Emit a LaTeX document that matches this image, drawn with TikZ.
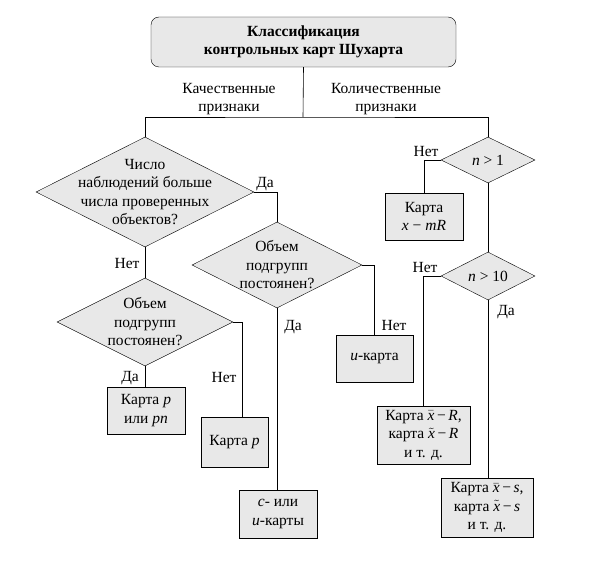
\documentclass[tikz,border=0pt]{standalone}
\usepackage{fix-cm}
\usepackage{fontspec}
\setmainfont{Liberation Serif}
\usetikzlibrary{shapes.geometric}

\begin{document}
\begin{tikzpicture}[x=1pt, y=-1pt,
                   every node/.style={font=\fontsize{15.5}{18.5}\selectfont, align=center},
                   card/.style={rectangle, draw=black, fill=black!9, inner sep=0pt},
                   ask/.style={diamond, draw=black, fill=black!9, inner sep=0pt},
                   link/.style={draw=black, line width=0.6pt}]
\useasboundingbox (0,0) rectangle (602,567);
\node[card, rounded corners=8pt, minimum width=305pt, minimum height=50pt, font=\fontsize{15.5}{18.5}\selectfont\bfseries] (title) at (303.5,42) {Классификация\\контрольных карт Шухарта};
\node (kach) at (229,99) {Качественные\\признаки};
\node (kol) at (386,99) {Количественные\\признаки};
\coordinate (split) at (303,117);

\node[ask, minimum width=218pt, minimum height=110pt, label={center:Число\\наблюдений больше\\числа проверенных\\объектов?}] (d1) at (145,192) {};
\node[ask, minimum width=176pt, minimum height=88pt, label={center:Объем\\подгрупп\\постоянен?}] (d3) at (145,322) {};
\node[ask, minimum width=170pt, minimum height=86pt, label={center:Объем\\подгрупп\\постоянен?}] (d2) at (277,265) {};
\node[ask, minimum width=94pt, minimum height=46pt, label={center:\textit{n} > 1}] (n1) at (488,160) {};
\node[ask, minimum width=94pt, minimum height=48pt, label={center:\textit{n} > 10}] (n10) at (488,276) {};

\node[card, minimum width=78pt, minimum height=47pt] (pn) at (146,410.5) {Карта \textit{p}\\или \textit{pn}};
\node[card, minimum width=67pt, minimum height=50pt] (p) at (234.5,442) {Карта \textit{p}};
\node[card, minimum width=78pt, minimum height=48pt] (cu) at (278,514) {\textit{c}- или\\\textit{u}-карты};
\node[card, minimum width=77pt, minimum height=47pt] (u) at (374.5,358.5) {\textit{u}-карта};
\node[card, minimum width=78pt, minimum height=47pt] (xmr) at (424,216.5) {Карта\\\textit{x} − \textit{mR}};
\node[card, minimum width=93pt, minimum height=58pt] (xr) at (423.5,435) {Карта $\bar{\textit{x}}$\,−\,\textit{R},\\карта $\tilde{\textit{x}}$\,−\,\textit{R}\\и т. д.};
\node[card, minimum width=92pt, minimum height=59pt] (xs) at (487,507.5) {Карта $\bar{\textit{x}}$\,−\,\textit{s},\\карта $\tilde{\textit{x}}$\,−\,\textit{s}\\и т. д.};

\node (yes1) at (265,184) {Да};
\node (no1) at (127,263) {Нет};
\node (yes2) at (130,378) {Да};
\node (no2) at (224,377) {Нет};
\node (yes3) at (293,327) {Да};
\node (no3) at (394,325) {Нет};
\node (no4) at (426,152) {Нет};
\node (no5) at (425,267) {Нет};
\node (yes4) at (506,312) {Да};

\draw[link] (title.south) -- (split);
\draw[link] (d1.north) |- (split) -| (n1.north);
\draw[link] (d1.east) -| (d2.north);
\draw[link] (d1.south) -- (d3.north);
\draw[link] (d3.south) -- (d3.south |- pn.north);
\draw[link] (d3.east) -| ([xshift=8pt]p.north);
\draw[link] (d2.south) -- (d2.south |- cu.north);
\draw[link] (d2.east) -| (u.north);
\draw[link] (n1.west) -| (xmr.north);
\draw[link] (n1.south) -- (n10.north);
\draw[link] (n10.west) -| (xr.north);
\draw[link] (n10.south) -- (n10.south |- xs.north);
\end{tikzpicture}
\end{document}
